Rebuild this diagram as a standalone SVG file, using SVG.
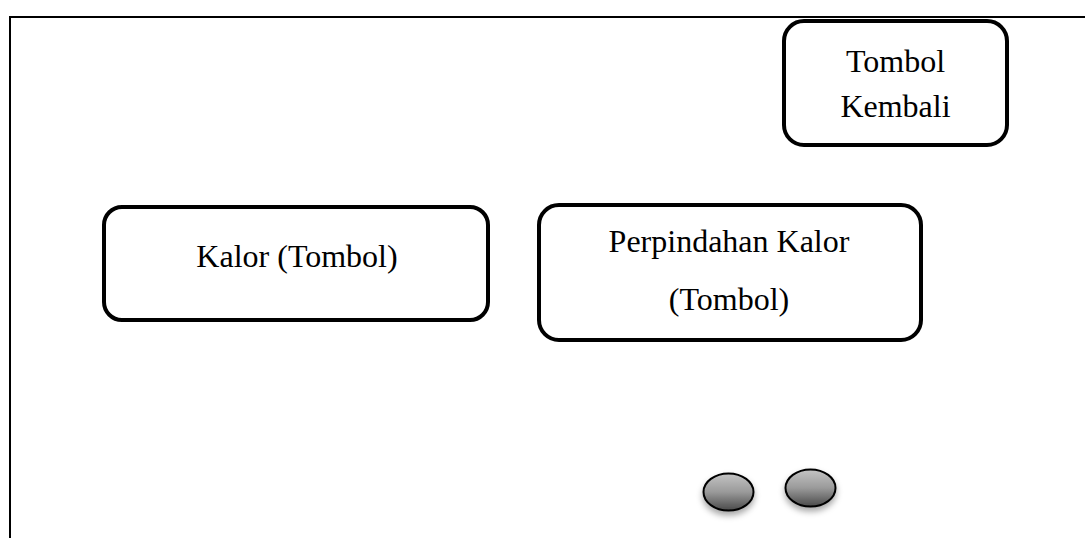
<svg xmlns="http://www.w3.org/2000/svg" width="1085" height="538" viewBox="0 0 1085 538">
<style>
.box{fill:#fff;stroke:#000;stroke-width:4}
.lbl{font-family:"Liberation Serif","Times New Roman",serif;font-size:32px;fill:#000;text-anchor:middle}
.btn{fill:url(#g);stroke:#000;stroke-width:2;filter:url(#sh)}
</style>
<defs>
<linearGradient id="g" x1="0" y1="0" x2="0" y2="1">
<stop offset="0" stop-color="#c4c4c4"/>
<stop offset="0.5" stop-color="#9a9a9a"/>
<stop offset="1" stop-color="#4a4a4a"/>
</linearGradient>
<filter id="sh" x="-50%" y="-50%" width="200%" height="200%">
<feDropShadow dx="0" dy="4" stdDeviation="3" flood-color="#000" flood-opacity="0.35"/>
</filter>
</defs>
<g id="frame"><path d="M10 538 V17 H1085" fill="none" stroke="#000" stroke-width="2"/></g>
<g id="connectors"></g>
<g id="tombol-kembali">
<rect class="box" x="784" y="21" width="223" height="124" rx="20"/>
<text class="lbl" x="895.5" y="72">Tombol</text>
<text class="lbl" x="895.5" y="117">Kembali</text>
</g>
<g id="kalor">
<rect class="box" x="104" y="207" width="384" height="113" rx="18"/>
<text class="lbl" x="297" y="267">Kalor (Tombol)</text>
</g>
<g id="perpindahan-kalor">
<rect class="box" x="539" y="205" width="382" height="135" rx="20"/>
<text class="lbl" x="729" y="252">Perpindahan Kalor</text>
<text class="lbl" x="729" y="310">(Tombol)</text>
</g>
<g id="button-1"><ellipse class="btn" cx="728.5" cy="492" rx="25" ry="18.5"/></g>
<g id="button-2"><ellipse class="btn" cx="810.5" cy="488" rx="25" ry="18.5"/></g>
</svg>
